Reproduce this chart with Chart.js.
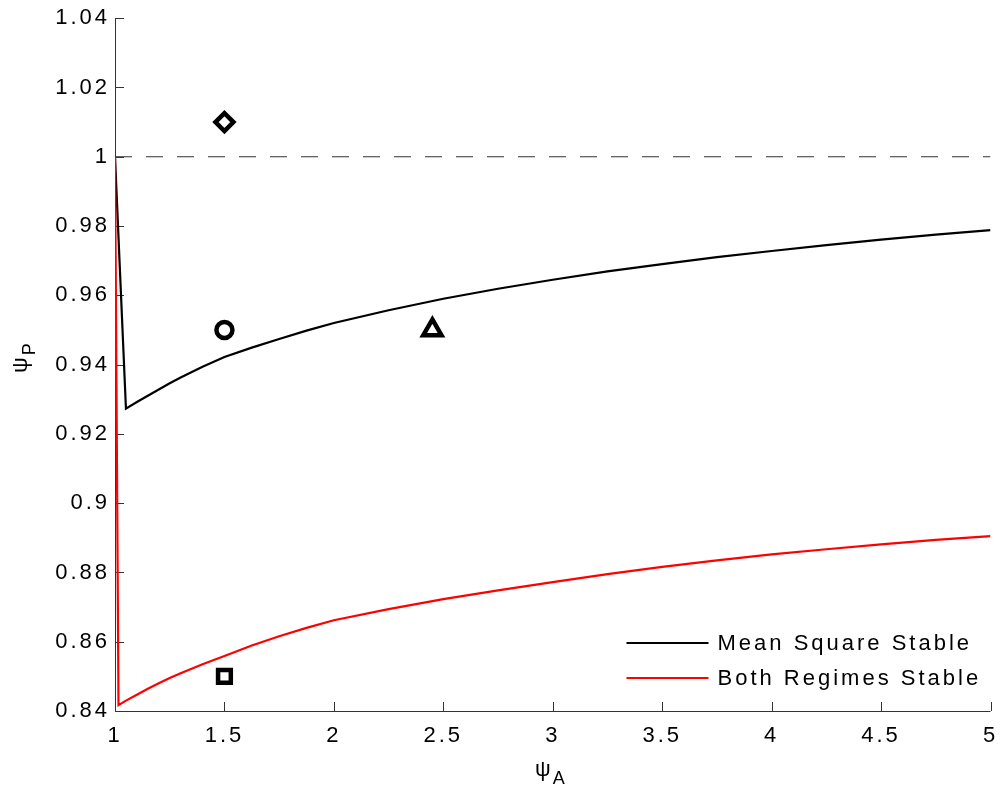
<!DOCTYPE html>
<html>
<head>
<meta charset="utf-8">
<script src="https://cdn.jsdelivr.net/npm/chart.js@4.4.1/dist/chart.umd.min.js"></script>
<style>
  html, body { margin: 0; padding: 0; background: #fff; }
  #wrap { width: 1000px; height: 786px; overflow: hidden; }
</style>
</head>
<body>
<div id="wrap"><canvas id="psiChart" width="1004" height="786"></canvas></div>
<script>
// tick values on both axes
const xTicks = [1, 1.5, 2, 2.5, 3, 3.5, 4, 4.5, 5];
const yTicks = [0.84, 0.86, 0.88, 0.9, 0.92, 0.94, 0.96, 0.98, 1, 1.02, 1.04];

const seriesNames = ['Mean Square Stable', 'Both Regimes Stable'];

// mean square stability boundary (black)
const msX = [1, 1.05, 1.1, 1.15, 1.2, 1.25, 1.3, 1.4, 1.5, 1.625, 1.75, 1.875, 2,
             2.25, 2.5, 2.75, 3, 3.25, 3.5, 3.75, 4, 4.25, 4.5, 4.75, 5];
const msY = [1, 0.9273, 0.9292, 0.9310, 0.9328, 0.9346, 0.9363, 0.9394, 0.9422, 0.9449, 0.9474, 0.9498, 0.9520,
             0.9557, 0.9590, 0.9619, 0.9645, 0.9669, 0.9690, 0.9710, 0.9728, 0.9745, 0.9761, 0.9775, 0.9788];

// both regimes stable boundary (red)
const bothX = [1, 1.016, 1.05, 1.1, 1.15, 1.2, 1.25, 1.3, 1.4, 1.5, 1.625, 1.75, 1.875, 2,
               2.25, 2.5, 2.75, 3, 3.25, 3.5, 3.75, 4, 4.25, 4.5, 4.75, 5];
const bothY = [1, 0.8417, 0.8430, 0.8447, 0.8464, 0.8480, 0.8495, 0.8509, 0.8535, 0.8559, 0.8589, 0.8616, 0.8640, 0.8662,
               0.8694, 0.8723, 0.8748, 0.8772, 0.8795, 0.8816, 0.8835, 0.8852, 0.8867, 0.8881, 0.8894, 0.8905];

// psi_P = 1 reference line
const refX = [1, 5];
const refY = [1, 1];

// example parameter points
const markX = [1.5, 1.5, 2.45, 1.5];
const markY = [1.01, 0.95, 0.95, 0.85];

const FONT = "'Liberation Sans', Arial, sans-serif";
const AXIS = '#333';

const toPts = (xs, ys) => xs.map((x, i) => ({ x: x, y: ys[i] }));

// MATLAB-like wide letter spacing (draw time only, so layout is unchanged)
const spacing = {
    id: 'spacing',
    beforeDraw(chart) { chart.ctx.letterSpacing = '3px'; }
};

// axis lines + inward ticks
const axes = {
    id: 'axes',
    beforeDatasetsDraw(chart) {
        const { ctx, chartArea: a, scales: { x, y } } = chart;
        ctx.save();
        ctx.strokeStyle = AXIS;
        ctx.lineWidth = 1;
        ctx.beginPath();
        ctx.moveTo(a.left + 0.5, a.top);
        ctx.lineTo(a.left + 0.5, a.bottom + 0.5);
        ctx.lineTo(a.right, a.bottom + 0.5);
        xTicks.forEach(v => {
            const px = Math.round(x.getPixelForValue(v)) + 0.5;
            ctx.moveTo(px, a.bottom);
            ctx.lineTo(px, a.bottom - 9);
        });
        yTicks.forEach(v => {
            const py = Math.round(y.getPixelForValue(v)) + 0.5;
            ctx.moveTo(a.left, py);
            ctx.lineTo(a.left + 9, py);
        });
        ctx.stroke();
        ctx.restore();
    }
};

function subText(ctx, main, sub, x, y) {
    ctx.font = '22px ' + FONT;
    ctx.textAlign = 'left';
    ctx.textBaseline = 'alphabetic';
    ctx.fillText(main, x, y);
    const w = ctx.measureText(main).width;
    ctx.font = '18px ' + FONT;
    ctx.fillText(sub, x + w + 2, y + 8);
}

// axis titles with subscripts, and the box-less legend
const extras = {
    id: 'extras',
    afterDraw(chart) {
        const { ctx, chartArea: a } = chart;
        ctx.save();
        ctx.fillStyle = '#000';
        ctx.letterSpacing = '0px';
        subText(ctx, 'ψ', 'A', 535, 776);
        ctx.translate(27, 373);
        ctx.rotate(-Math.PI / 2);
        subText(ctx, 'ψ', 'P', 0, 0);
        ctx.restore();

        ctx.save();
        ctx.letterSpacing = '3px';
        ctx.font = '22px ' + FONT;
        ctx.textBaseline = 'middle';
        ctx.textAlign = 'left';
        const ds = chart.data.datasets;
        [1, 2].forEach((k, i) => {
            const yy = a.bottom - 68 + i * 35;
            ctx.strokeStyle = ds[k].borderColor;
            ctx.lineWidth = 2;
            ctx.beginPath();
            ctx.moveTo(a.right - 364, yy);
            ctx.lineTo(a.right - 282, yy);
            ctx.stroke();
            ctx.fillStyle = '#000';
            ctx.fillText(seriesNames[i], a.right - 273, yy + 1);
        });
        ctx.restore();
    }
};

const ctx = document.getElementById('psiChart').getContext('2d');
const psiChart = new Chart(ctx, {
    type: 'line',
    data: {
        datasets: [{
            label: 'psi_P = 1',
            data: toPts(refX, refY),
            borderColor: '#333333',
            borderWidth: 1.2,
            borderDash: [17, 14],
            pointRadius: 0,
            order: 3
        }, {
            label: seriesNames[0],
            data: toPts(msX, msY),
            borderColor: '#000000',
            borderWidth: 2.2,
            pointRadius: 0,
            order: 2
        }, {
            label: seriesNames[1],
            data: toPts(bothX, bothY),
            borderColor: '#ff0000',
            borderWidth: 2.2,
            pointRadius: 0,
            order: 1
        }, {
            label: 'points',
            data: toPts(markX, markY),
            showLine: false,
            pointStyle: ['rectRot', 'circle', 'triangle', 'rect'],
            pointRadius: [9, 8, 10.5, 9],
            pointBorderWidth: 4.5,
            pointBorderColor: '#000',
            pointBackgroundColor: '#fff',
            order: 0
        }]
    },
    options: {
        responsive: false,
        animation: false,
        devicePixelRatio: 1,
        layout: { padding: { top: 18, right: 9, left: 0, bottom: 0 } },
        plugins: {
            legend: { display: false },
            tooltip: { enabled: false }
        },
        scales: {
            x: {
                type: 'linear',
                min: 1,
                max: 5,
                afterBuildTicks: s => { s.ticks = xTicks.map(v => ({ value: v })); },
                afterFit: s => { s.height = 75; },
                // invisible tick marks give the label offset
                grid: { display: true, drawOnChartArea: false, drawTicks: true, tickLength: 12, tickColor: 'rgba(0,0,0,0)' },
                border: { display: false },
                ticks: {
                    color: '#000',
                    padding: 0,
                    maxRotation: 0,
                    font: { family: FONT, size: 22 },
                    callback: v => String(v)
                }
            },
            y: {
                min: 0.84,
                max: 1.04,
                afterBuildTicks: s => { s.ticks = yTicks.map(v => ({ value: v })); },
                afterFit: s => { s.width = 115; },
                grid: { display: false, drawTicks: false },
                border: { display: false },
                ticks: {
                    color: '#000',
                    padding: 5,
                    font: { family: FONT, size: 22 },
                    callback: v => String(+v.toFixed(2))
                }
            }
        }
    },
    plugins: [spacing, axes, extras]
});
</script>
</body>
</html>
